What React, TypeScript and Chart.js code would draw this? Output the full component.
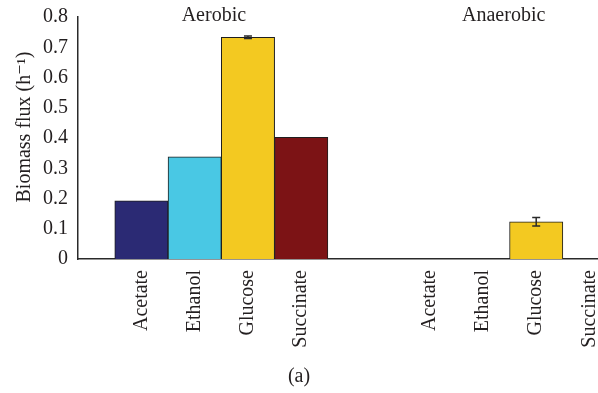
import React, { useEffect, useRef } from "react";
import { Chart, registerables } from "chart.js";

Chart.register(...registerables);

const categoryLabels = ["Acetate", "Ethanol", "Glucose", "Succinate", "Acetate", "Ethanol", "Glucose", "Succinate"];
const slotPositions = [1.19, 2.19, 3.19, 4.19, 6.6, 7.6, 8.6, 9.6];
const fluxValues: (number | null)[] = [0.192, 0.338, 0.733, 0.402, null, null, 0.123, null];
const fluxErrors = [0, 0, 0.004, 0, 0, 0, 0.014, 0];
const barColors = ["#2b2a74", "#49c8e4", "#f3c921", "#7c1315", "#2b2a74", "#49c8e4", "#f3c921", "#7c1315"];
const groupNames = ["Aerobic", "Anaerobic"];
const groupPositions = [2.55, 7.99];
const yTickValues = [0, 0.1, 0.2, 0.3, 0.4, 0.5, 0.6, 0.7, 0.8];
const yAxisTitle = "Biomass flux (h⁻¹)";

const FONT = "'Liberation Serif', 'DejaVu Serif', serif";
const TEXT = "#231f20";

export default function App() {
  const ref = useRef<HTMLCanvasElement | null>(null);

  useEffect(() => {
    document.body.style.margin = "0";
    const canvas = ref.current;
    if (!canvas) return;

    const overlay = {
      id: "overlay",
      afterDatasetsDraw(chart: any) {
        const ctx = chart.ctx;
        const xs = chart.scales.x;
        const ys = chart.scales.y;
        ctx.save();
        ctx.strokeStyle = "#2a2a2a";
        ctx.lineWidth = 1.5;
        fluxValues.forEach((v, i) => {
          const e = fluxErrors[i];
          if (v == null || !e) return;
          const x = xs.getPixelForValue(slotPositions[i]);
          const y1 = ys.getPixelForValue(v + e);
          const y2 = ys.getPixelForValue(v - e);
          ctx.beginPath();
          ctx.moveTo(x, y1);
          ctx.lineTo(x, y2);
          ctx.moveTo(x - 4, y1);
          ctx.lineTo(x + 4, y1);
          ctx.moveTo(x - 4, y2);
          ctx.lineTo(x + 4, y2);
          ctx.stroke();
        });
        ctx.fillStyle = TEXT;
        ctx.font = `20px ${FONT}`;
        ctx.textAlign = "center";
        ctx.textBaseline = "middle";
        groupNames.forEach((g, i) => {
          ctx.fillText(g, xs.getPixelForValue(groupPositions[i]), 16);
        });
        ctx.translate(25, 127);
        ctx.rotate(-Math.PI / 2);
        ctx.fillText(yAxisTitle, 0, 0);
        ctx.restore();
      },
    };

    const chart = new Chart(canvas, {
      type: "bar",
      data: {
        datasets: [
          {
            data: slotPositions.map((x, i) => ({ x, y: fluxValues[i] })) as any,
            backgroundColor: barColors,
            borderColor: "#1e1e1e",
            borderWidth: 1,
            borderSkipped: "bottom",
            barPercentage: 1,
            categoryPercentage: 1,
          },
        ],
      },
      options: {
        animation: false,
        responsive: false,
        layout: { padding: { top: 17, right: 0, left: 0, bottom: 0 } },
        plugins: {
          legend: { display: false },
          tooltip: { enabled: false },
          title: {
            display: true,
            text: "(a)",
            position: "bottom",
            color: TEXT,
            font: { family: FONT, size: 20, weight: "normal" },
            padding: { top: 0, bottom: 4 },
          },
        },
        scales: {
          x: {
            type: "linear",
            offset: false,
            min: 0,
            max: 9.76,
            grid: { display: false, drawTicks: false },
            border: { display: true, color: "#2a2a2a", width: 1.5 },
            afterBuildTicks: (scale: any) => {
              scale.ticks = slotPositions.map((v) => ({ value: v }));
            },
            afterFit: (scale: any) => {
              scale.height = 106;
              scale.paddingLeft = 0;
              scale.paddingRight = 0;
            },
            ticks: {
              autoSkip: false,
              minRotation: 90,
              maxRotation: 90,
              padding: 11,
              color: TEXT,
              font: { family: FONT, size: 20 },
              callback: (_v: any, i: number) => categoryLabels[i],
            },
          },
          y: {
            min: 0,
            max: 0.8,
            grid: { display: false, drawTicks: false },
            border: { display: true, color: "#2a2a2a", width: 1.5 },
            afterBuildTicks: (scale: any) => {
              scale.ticks = yTickValues.map((v) => ({ value: v }));
            },
            afterFit: (scale: any) => {
              scale.width = 78;
              scale.paddingTop = 0;
              scale.paddingBottom = 0;
            },
            ticks: {
              padding: 10,
              color: TEXT,
              font: { family: FONT, size: 20 },
              callback: (v: any) => (v === 0 ? "0" : Number(v).toFixed(1)),
            },
          },
        },
      },
      plugins: [overlay],
    });
    return () => chart.destroy();
  }, []);

  return (
    <div style={{ position: "fixed", left: 0, top: 0, width: 598, height: 393, background: "#fff" }}>
      <canvas ref={ref} width={598} height={393} />
    </div>
  );
}
